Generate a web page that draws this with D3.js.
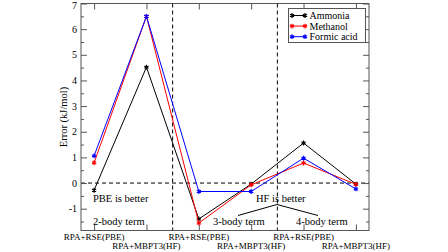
<!DOCTYPE html>
<html>
<head>
<meta charset="utf-8">
<script src="https://cdn.jsdelivr.net/npm/d3@7"></script>
<style>
  body { margin: 0; background: #fff; }
  text { font-family: "Liberation Serif", "DejaVu Serif", serif; fill: #000; }
</style>
</head>
<body>
<div id="chart"></div>
<script>
// x positions 1..6, alternating PBE / HF references per body term
const positions = [1, 2, 3, 4, 5, 6];
const xLabels = ['RPA+RSE(PBE)', 'RPA+MBPT3(HF)', 'RPA+RSE(PBE)', 'RPA+MBPT3(HF)', 'RPA+RSE(PBE)', 'RPA+MBPT3(HF)'];
const seriesNames = ['Ammonia', 'Methanol', 'Formic acid'];
const seriesColors = ['#000000', '#ff0000', '#0000ff'];
const ammonia = [-0.28, 4.52, -1.40, -0.04, 1.56, -0.04];
const methanol = [0.79, 6.50, -1.56, -0.07, 0.78, -0.05];
const formicAcid = [1.06, 6.50, -0.33, -0.33, 0.97, -0.23];
const yTicks = [-1, 0, 1, 2, 3, 4, 5, 6, 7];
const separators = [2.5, 4.5];

const width = 448, height = 252;
const margin = { top: 3.5, right: 79, bottom: 21.5, left: 81 };
const frameColor = '#555';

const svg = d3.select('#chart').append('svg')
  .attr('width', width)
  .attr('height', height);

const x = d3.scaleLinear().domain([0.75, 6.25]).range([margin.left, width - margin.right]);
const y = d3.scaleLinear().domain([-1.85, 7]).range([height - margin.bottom, margin.top]);

const x0 = x.range()[0], x1 = x.range()[1];
const y0 = y.range()[0], y1 = y.range()[1];

// Dashed reference lines
svg.append('line')
  .attr('x1', x0).attr('x2', x1)
  .attr('y1', y(0)).attr('y2', y(0))
  .attr('stroke', '#000').attr('stroke-width', 1)
  .attr('stroke-dasharray', '4,3');

svg.selectAll('.sep')
  .data(separators)
  .enter().append('line')
  .attr('x1', d => x(d)).attr('x2', d => x(d))
  .attr('y1', y1).attr('y2', y0)
  .attr('stroke', '#000').attr('stroke-width', 1)
  .attr('stroke-dasharray', '4,3');

// Axes with inward ticks (frame on all sides)
const halfTicks = d3.range(-1.5, 7.01, 0.5);

const leftAxis = svg.append('g')
  .attr('transform', `translate(${x0},0)`)
  .call(d3.axisRight(y).tickValues(halfTicks).tickSize(3).tickFormat(''));
leftAxis.selectAll('.tick line').filter(d => Number.isInteger(d)).attr('x2', 6);
leftAxis.select('.domain').remove();

const rightAxis = svg.append('g')
  .attr('transform', `translate(${x1},0)`)
  .call(d3.axisLeft(y).tickValues(halfTicks).tickSize(3).tickFormat(''));
rightAxis.selectAll('.tick line').filter(d => Number.isInteger(d)).attr('x2', -6);
rightAxis.select('.domain').remove();

const topAxis = svg.append('g')
  .attr('transform', `translate(0,${y1})`)
  .call(d3.axisBottom(x).tickValues(positions).tickSize(6).tickFormat(''));
topAxis.select('.domain').remove();

const bottomAxis = svg.append('g')
  .attr('transform', `translate(0,${y0})`)
  .call(d3.axisTop(x).tickValues(positions).tickSize(6).tickFormat(''));
bottomAxis.select('.domain').remove();

svg.selectAll('.tick line').attr('stroke', frameColor);

svg.append('rect')
  .attr('x', x0).attr('y', y1)
  .attr('width', x1 - x0).attr('height', y0 - y1)
  .attr('fill', 'none').attr('stroke', frameColor).attr('stroke-width', 1);

// Y tick labels
svg.selectAll('.ylab')
  .data(yTicks)
  .enter().append('text')
  .attr('x', x0 - 4)
  .attr('y', d => Math.max(y(d) + 3.5, 8.5))
  .attr('text-anchor', 'end')
  .attr('font-size', '10px')
  .text(d => d);

// X tick labels, staggered in two rows
svg.selectAll('.xlab')
  .data(positions)
  .enter().append('text')
  .attr('x', d => x(d))
  .attr('y', (d, i) => i % 2 === 0 ? 240 : 249)
  .attr('text-anchor', 'middle')
  .attr('font-size', '9px')
  .text((d, i) => xLabels[i]);

// Y axis title
svg.append('text')
  .attr('transform', `translate(66.5,${(y0 + y1) / 2}) rotate(-90)`)
  .attr('text-anchor', 'middle')
  .attr('font-size', '10.5px')
  .text('Error (kJ/mol)');

// Series
const allSeries = [ammonia, methanol, formicAcid];
const line = d3.line()
  .x((d, i) => x(positions[i]))
  .y(d => y(d));
const marker = d3.symbol().type(d3.symbolAsterisk).size(16);

allSeries.forEach((vals, s) => {
  svg.append('path')
    .datum(vals)
    .attr('fill', 'none')
    .attr('stroke', seriesColors[s])
    .attr('stroke-width', 1)
    .attr('d', line);

  svg.selectAll(`.pt-${s}`)
    .data(vals)
    .enter().append('path')
    .attr('class', `pt-${s}`)
    .attr('transform', (d, i) => `translate(${x(positions[i])},${y(d)})`)
    .attr('d', marker)
    .attr('fill', 'none')
    .attr('stroke', seriesColors[s])
    .attr('stroke-width', 1.2);
});

// Annotations
svg.append('text').attr('x', 93).attr('y', 201.5).attr('font-size', '10.5px').text('PBE is better');
svg.append('text').attr('x', 93).attr('y', 224.5).attr('font-size', '10.5px').text('2-body term');
svg.append('text').attr('x', 213).attr('y', 224.5).attr('font-size', '10.5px').text('3-body term');
svg.append('text').attr('x', 296).attr('y', 224.5).attr('font-size', '10.5px').text('4-body term');
svg.append('text').attr('x', 256).attr('y', 201.5).attr('font-size', '10.5px').text('HF is better');

svg.append('path')
  .attr('d', 'M238,215.5 L277,204.5 L318,215.5')
  .attr('fill', 'none')
  .attr('stroke', '#000')
  .attr('stroke-width', 1);

// Legend
const legend = svg.append('g').attr('transform', 'translate(288.5,8.5)');
legend.append('rect')
  .attr('width', 77).attr('height', 34)
  .attr('fill', '#fff').attr('stroke', frameColor).attr('stroke-width', 1);

seriesNames.forEach((name, i) => {
  const ly = 7 + i * 10.6;
  legend.append('line')
    .attr('x1', 3.5).attr('x2', 16.5)
    .attr('y1', ly).attr('y2', ly)
    .attr('stroke', seriesColors[i]).attr('stroke-width', 1);
  [3.5, 16.5].forEach(mx => {
    legend.append('path')
      .attr('transform', `translate(${mx},${ly})`)
      .attr('d', marker)
      .attr('fill', 'none')
      .attr('stroke', seriesColors[i])
      .attr('stroke-width', 1.2);
  });
  legend.append('text')
    .attr('x', 21)
    .attr('y', ly + 3.5)
    .attr('font-size', '10px')
    .text(name);
});
</script>
</body>
</html>
